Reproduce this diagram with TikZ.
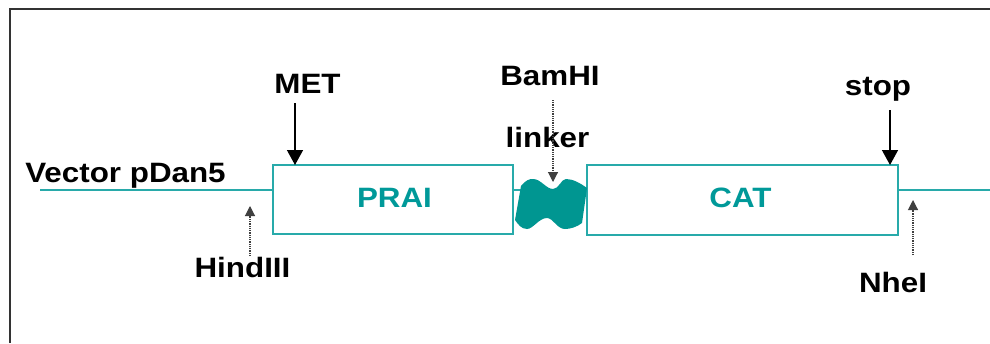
\documentclass[tikz,border=0pt]{standalone}
\usepackage{fontspec}
\setmainfont{Liberation Sans}
\usepackage{graphicx}
\usetikzlibrary{arrows.meta}
\definecolor{dnaline}{RGB}{40,170,170}
\definecolor{dnatext}{RGB}{0,153,153}
\definecolor{linkerfill}{RGB}{0,150,145}
\newcommand\widetext[1]{\scalebox{1.12}[1]{#1}}
\begin{document}
\begin{tikzpicture}[x=1pt,y=-1pt,
  lbl/.style={anchor=base,inner sep=0pt,font=\fontsize{28}{28}\selectfont\bfseries},
  genelbl/.style={lbl,text=dnatext},
  gene/.style={draw=dnaline,line width=1.6pt,fill=white,inner sep=0pt,outer sep=0pt},
  dna/.style={draw=dnaline,line width=1.6pt},
  pointer/.style={-{Triangle[width=16pt,length=15pt]},line width=1.4pt,black},
  site/.style={-{Triangle[width=10pt,length=10pt]},line width=1.1pt,black!75,dash pattern=on 1pt off 0.8pt}]
\useasboundingbox (0,0) rectangle (990,343);
\fill[white] (0,0) rectangle (990,343);
% outer frame
\draw[line width=2.4pt,black!80] (10,343) -- (10,9) -- (990,9);

% backbone coordinates
\coordinate (vstart) at (40,190);
\coordinate (vend) at (990,190);
\coordinate (linkL) at (522,190);
\coordinate (linktop) at (553,182);

% gene boxes
\node[gene,minimum width=240pt,minimum height=69pt] (prai) at (393,199.5) {};
\node[gene,minimum width=311pt,minimum height=70pt] (cat) at (742.5,200) {};

% vector backbone
\draw[dna] (vstart) -- (vstart -| prai.west);
\draw[dna] (vstart -| prai.east) -- (linkL);
\draw[dna] (vend -| cat.east) -- (vend);

% BamHI linker
\fill[linkerfill] (521,186) .. controls (526,180) and (529,179) .. (533,179)
  .. controls (541,179) and (546,189) .. (553,189)
  .. controls (559,189) and (561,179) .. (566,179)
  .. controls (573,179) and (580,183) .. (587,188)
  -- (582,223)
  .. controls (577,227) and (570,229) .. (565,229)
  .. controls (557,229) and (553,218) .. (547,218)
  .. controls (539,218) and (533,229) .. (527,229)
  .. controls (521,229) and (518,224) .. (515,220) -- cycle;

% labels
\node[genelbl] (praitext) at (394.5,207) {\widetext{PRAI}};
\node[genelbl] (cattext) at (740.5,207) {\widetext{CAT}};
\node[lbl] (vec) at (125.5,182) {\widetext{Vector pDan5}};
\node[lbl] (met) at (307.5,93) {\widetext{MET}};
\node[lbl] (bam) at (550,85) {\widetext{BamHI}};
\node[lbl] (linker) at (547.5,147) {\widetext{linker}};
\node[lbl] (stop) at (878,95) {\widetext{stop}};
\node[lbl] (hind) at (242.5,277) {\widetext{HindIII}};
\node[lbl] (nhe) at (893,292) {\widetext{NheI}};

% pointers
\coordinate (mettail) at (295,103);
\coordinate (stoptail) at (890,110);
\coordinate (bamtail) at (553,100);
\coordinate (hindtail) at (250,256);
\coordinate (hindhead) at (250,206);
\coordinate (nhetail) at (913,255);
\coordinate (nhehead) at (913,200);
\draw[pointer] (mettail) -- (mettail |- prai.north);
\draw[pointer] (stoptail) -- (stoptail |- cat.north);
\draw[site] (bamtail) -- (linktop);
\draw[site] (hindtail) -- (hindhead);
\draw[site] (nhetail) -- (nhehead);
\end{tikzpicture}
\end{document}
